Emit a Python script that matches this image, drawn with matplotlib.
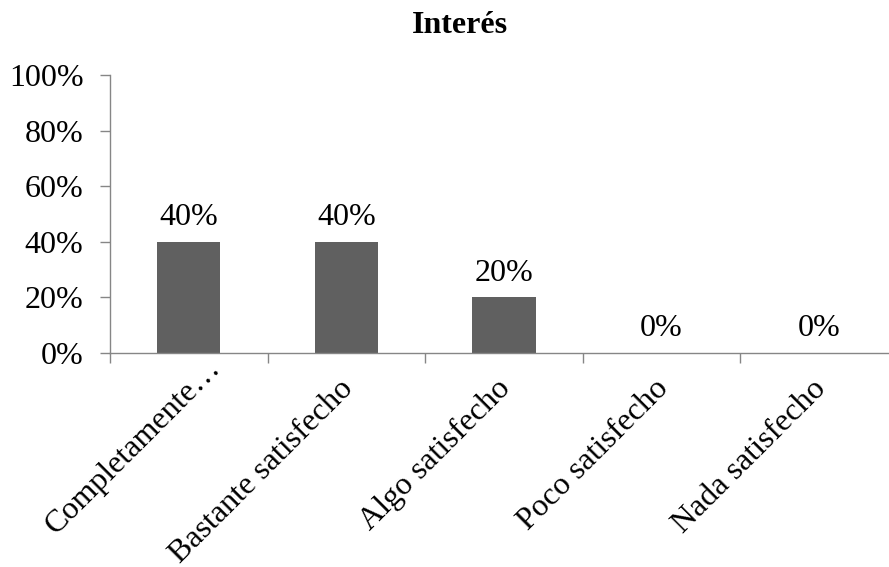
import matplotlib
matplotlib.use("Agg")
import matplotlib.pyplot as plt
from matplotlib.ticker import FuncFormatter
from matplotlib.transforms import ScaledTranslation

categories = ["Completamente…", "Bastante satisfecho", "Algo satisfecho",
              "Poco satisfecho", "Nada satisfecho"]
values = [40, 40, 20, 0, 0]
yticks = [0, 20, 40, 60, 80, 100]

plt.rcParams['font.family'] = ['Liberation Serif', 'DejaVu Serif']

W, H = 889, 567
fig = plt.figure(figsize=(W / 100, H / 100), dpi=100)
ax = fig.add_axes([110 / W, (H - 353) / H, (898 - 110) / W, (353 - 75) / H])

x = list(range(len(categories)))
bars = ax.bar(x, values, width=0.4, color="#606060")
for xi, v in zip(x, values):
    ax.annotate(f"{v}%", (xi, v), xytext=(0, 7), textcoords="offset points",
                ha="center", va="bottom", fontsize=23)

ax.set_xlim(-0.5, len(categories) - 0.5)
ax.set_ylim(0, 100)
ax.set_yticks(yticks)
ax.yaxis.set_major_formatter(FuncFormatter(lambda v, p: f"{v:.0f}%"))
ax.tick_params(axis="y", labelsize=23, length=7, width=1, color="#868686", pad=12)

# category ticks sit between bars
ax.set_xticks([i - 0.5 for i in range(len(categories) + 1)], minor=True)
ax.set_xticks(x)
ax.set_xticklabels(categories, rotation=45, ha="right", rotation_mode="anchor", fontsize=23)
ax.tick_params(axis="x", which="major", length=0, pad=18)
ax.tick_params(axis="x", which="minor", length=7, width=1, color="#868686")
# nudge labels (pixels) to sit like the original; the truncated one rides higher
for i, lbl in enumerate(ax.get_xticklabels()):
    dx, dy = (17, 24) if i == 0 else (-8, 4)
    lbl.set_transform(lbl.get_transform() +
                      ScaledTranslation(dx / 100, dy / 100, fig.dpi_scale_trans))

for s in ["top", "right"]:
    ax.spines[s].set_visible(False)
for s in ["left", "bottom"]:
    ax.spines[s].set_color("#868686")
    ax.spines[s].set_linewidth(1)

fig.text(460 / W, 1 - 33 / H, "Interés", ha="center", va="baseline",
         fontsize=23, fontweight="bold")

fig.savefig("out.png", dpi=100)
